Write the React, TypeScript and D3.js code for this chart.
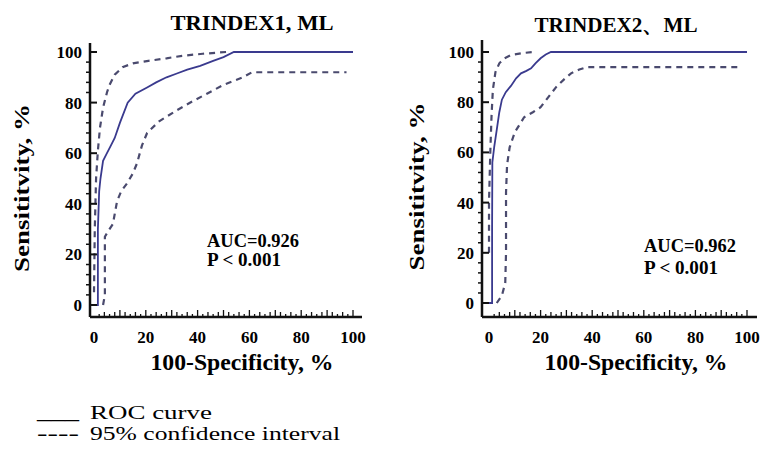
import React from 'react';
import * as d3 from 'd3';

type Pt = [number, number];

const xTicks = [0, 20, 40, 60, 80, 100];
const yTicks = [0, 20, 40, 60, 80, 100];

const roc1: Pt[] = [[0,0],[1.5,0],[1.5,30],[2,45],[2.5,50],[3.5,57],[5,60],[6.5,63],[8,66],[10,72],[13,80],[16,83.5],[20.5,86],[24,88],[28,90],[32,91.5],[36,93],[41,94.5],[46,96.5],[50,98],[54,100],[100,100]];
const upper1: Pt[] = [[0,5],[0.3,30],[0.8,50],[1.5,61],[2.3,70],[3.5,78],[5,84],[6,87],[8,91],[11,94],[15,95.5],[21,96.5],[28,97.5],[34,98.5],[42,99.3],[51,100]];
const lower1: Pt[] = [[3.5,0],[4.2,4],[4.2,27],[6,30],[7.3,32],[8.9,41],[10.5,45],[12.7,48],[15,52],[16.6,56],[18.5,63],[20.5,68],[25,72.5],[32,77],[38,80.5],[43.6,83.5],[50,87],[57.5,90],[61,92],[97.5,92]];

const roc2: Pt[] = [[0,0],[1.2,0],[1.2,30],[1.3,56],[2,62],[3,69],[4,76],[5,81],[6.5,84],[8.5,86.5],[10.5,89.5],[12.4,91.5],[14.5,92.5],[16.3,93.5],[18,95.5],[20,97.5],[22,99],[24,100],[100,100]];
const upper2: Pt[] = [[0,20],[0,40],[0.5,60],[1,75],[1.5,85],[2.5,92],[4,95.5],[6,97.5],[8.5,98.8],[13,99.6],[17.5,100]];
const lower2: Pt[] = [[3,0],[5,3],[6.3,8],[6.6,20],[6.6,44],[7,55],[8,62],[10,68],[13.6,74],[17,76],[20,78],[23,82],[26,86],[29,89],[31.8,91.5],[35,93],[38,94],[97.7,94]];

const titles = ['TRINDEX1, ML', 'TRINDEX2\u3001ML'];
const aucLabels = ['AUC=0.926', 'AUC=0.962'];
const pLabel = 'P < 0.001';
const yTitle = 'Sensititvity, %';
const xTitle = '100-Specificity, %';
const legendItems = ['ROC curve', '95% confidence interval'];
const legendMarks = ['___', '----'];

const serif = "'Liberation Serif', Tinos, 'Times New Roman', 'DejaVu Serif', serif";
const rocColor = '#3a3a8e';
const ciColor = '#4a4a6e';

interface Geo {
  axisX: number; x0: number; x1: number; y0: number; y1: number;
  top: number; bottom: number; right: number;
  titleX: number; titleY: number; yTitleX: number;
  aucX: number; aucY: number; pY: number; xTitleX: number;
}

const bold = { fontFamily: serif, fontWeight: 700 } as React.CSSProperties;

function Panel({ g, roc, up, lo, title, auc }: { g: Geo; roc: Pt[]; up: Pt[]; lo: Pt[]; title: string; auc: string }) {
  const x = d3.scaleLinear().domain([0, 100]).range([g.x0, g.x1]);
  const y = d3.scaleLinear().domain([0, 100]).range([g.y0, g.y1]);
  const line = d3.line<Pt>().x(d => x(d[0])).y(d => y(d[1]));
  const minorY = d3.range(0, 101, 4).filter(v => v % 20 !== 0);
  const minorX = d3.range(2, 101, 2);
  const yMid = (g.top + g.bottom) / 2 + 8;
  return (
    <g>
      <text x={g.titleX} y={g.titleY} textAnchor="middle" style={{ ...bold, fontSize: 21 }} textLength={163} lengthAdjust="spacingAndGlyphs">{title}</text>
      <path d={line(up) || ''} fill="none" stroke={ciColor} strokeWidth={2.2} strokeDasharray="6,5" />
      <path d={line(lo) || ''} fill="none" stroke={ciColor} strokeWidth={2.2} strokeDasharray="6,5" />
      <path d={line(roc) || ''} fill="none" stroke={rocColor} strokeWidth={1.8} />
      <line x1={g.axisX} x2={g.axisX} y1={g.top} y2={g.bottom} stroke="#111" strokeWidth={2.5} />
      <line x1={g.axisX} x2={g.right} y1={g.bottom} y2={g.bottom} stroke="#111" strokeWidth={2.5} />
      {yTicks.map(v => (
        <g key={'y' + v}>
          <line x1={g.axisX} x2={g.axisX + 7} y1={y(v)} y2={y(v)} stroke="#111" strokeWidth={2} />
          <text x={g.axisX - 8} y={y(v) + 6} textAnchor="end" style={{ ...bold, fontSize: 17 }}>{v}</text>
        </g>
      ))}
      {minorY.map(v => (
        <line key={'my' + v} x1={g.axisX - 4} x2={g.axisX} y1={y(v)} y2={y(v)} stroke="#111" strokeWidth={1.5} />
      ))}
      {minorX.map(v => (
        <line key={'mx' + v} x1={x(v)} x2={x(v)} y1={g.bottom} y2={g.bottom - (v % 10 === 0 ? 7 : v % 4 === 0 ? 5 : 3)} stroke="#111" strokeWidth={1.3} />
      ))}
      {xTicks.map(v => (
        <text key={'x' + v} x={x(v)} y={g.bottom + 26} textAnchor="middle" style={{ ...bold, fontSize: 17 }}>{v}</text>
      ))}
      <text transform={`translate(${g.yTitleX},${yMid}) rotate(-90)`} textAnchor="middle" style={{ ...bold, fontSize: 22 }} textLength={168} lengthAdjust="spacingAndGlyphs">{yTitle}</text>
      <text x={g.xTitleX} y={370} textAnchor="middle" style={{ ...bold, fontSize: 23 }} textLength={183} lengthAdjust="spacingAndGlyphs">{xTitle}</text>
      <text x={g.aucX} y={g.aucY} style={{ ...bold, fontSize: 18.5 }} textLength={92} lengthAdjust="spacingAndGlyphs">{auc}</text>
      <text x={g.aucX} y={g.pY} style={{ ...bold, fontSize: 18.5 }} textLength={74} lengthAdjust="spacingAndGlyphs">{pLabel}</text>
    </g>
  );
}

const geoL: Geo = { axisX: 90, x0: 94, x1: 353, y0: 305, y1: 52, top: 43, bottom: 317, right: 362, titleX: 252, titleY: 30, yTitleX: 29, aucX: 207, aucY: 247, pY: 266, xTitleX: 242 };
const geoR: Geo = { axisX: 482, x0: 489, x1: 747, y0: 303, y1: 52, top: 40, bottom: 317, right: 757, titleX: 616, titleY: 32, yTitleX: 424, aucX: 644, aucY: 252, pY: 274, xTitleX: 636 };

export default function App() {
  return (
    <svg width={768} height={450} style={{ position: 'absolute', left: 0, top: 0, background: '#fff' }}>
      <rect width={768} height={450} fill="#fff" />
      <Panel g={geoL} roc={roc1} up={upper1} lo={lower1} title={titles[0]} auc={aucLabels[0]} />
      <Panel g={geoR} roc={roc2} up={upper2} lo={lower2} title={titles[1]} auc={aucLabels[1]} />
      {legendItems.map((t, i) => (
        <g key={t}>
          <text x={37} y={419 + i * 21} style={{ fontFamily: serif, fontSize: 18, fontWeight: 700 }} textLength={42} lengthAdjust="spacingAndGlyphs">{legendMarks[i]}</text>
          <text x={90} y={419 + i * 21} style={{ fontFamily: serif, fontSize: 19 }} textLength={i === 0 ? 122 : 250} lengthAdjust="spacingAndGlyphs">{t}</text>
        </g>
      ))}
    </svg>
  );
}
